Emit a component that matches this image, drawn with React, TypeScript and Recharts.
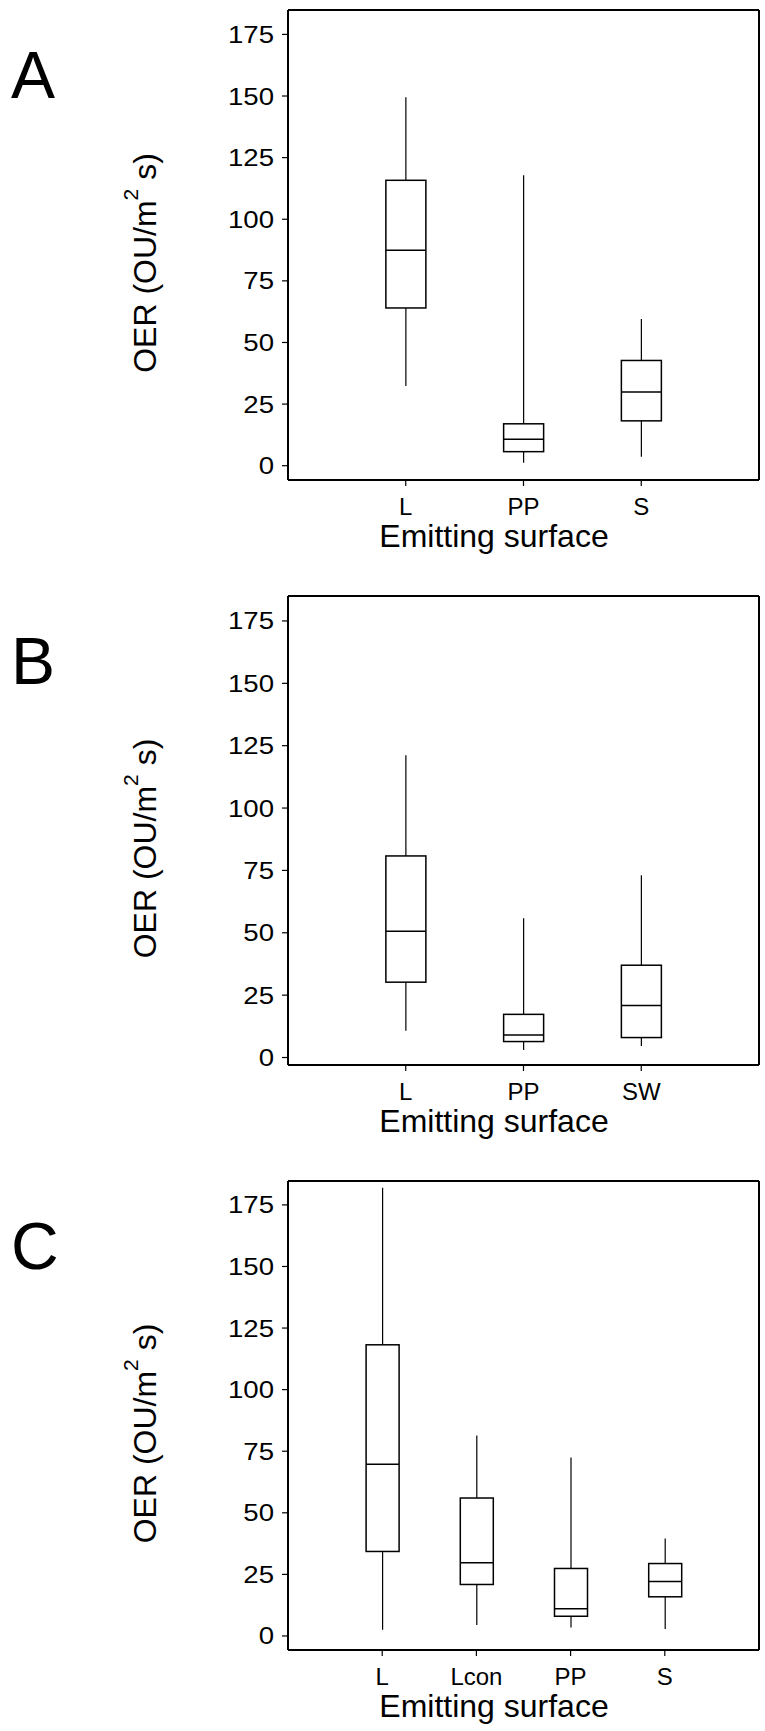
import { Bar, BarChart, ReferenceLine, XAxis, YAxis } from "recharts";

const font = "'Liberation Sans', Arial, sans-serif";
const yTicks = [0, 25, 50, 75, 100, 125, 150, 175];

// panel A
const catsA = ["L", "PP", "S"];
const minA = [32.3, 1.2, 3.6];
const q1A = [64, 5.7, 18.2];
const medA = [87.4, 10.7, 29.9];
const q3A = [115.8, 17, 42.7];
const maxA = [149.5, 117.8, 59.5];

// panel B
const catsB = ["L", "PP", "SW"];
const minB = [10.7, 3, 4.6];
const q1B = [30.2, 6.4, 8];
const medB = [50.6, 9, 20.9];
const q3B = [80.8, 17.3, 37];
const maxB = [121.2, 55.8, 73.1];

// panel C
const catsC = ["L", "Lcon", "PP", "S"];
const minC = [2.5, 4.4, 3.4, 2.8];
const q1C = [34.3, 20.9, 8, 15.9];
const medC = [69.7, 29.7, 11, 22.1];
const q3C = [118.2, 56, 27.4, 29.4];
const maxC = [182, 81.4, 72.4, 39.6];

function buildRows(cats, min, q1, med, q3, max) {
  return cats.map((name, i) => ({
    pos: i + 1,
    name,
    min: min[i],
    q1: q1[i],
    med: med[i],
    q3: q3[i],
    max: max[i],
    range: [min[i], max[i]],
  }));
}

function BoxShape(props: any) {
  const { x, y, width, height, payload } = props;
  const top = Math.min(y, y + height);
  const bottom = Math.max(y, y + height);
  const span = payload.max - payload.min;
  const py = (v: number) => bottom - ((v - payload.min) / span) * (bottom - top);
  const cx = x + width / 2;
  return (
    <g>
      <line x1={cx} x2={cx} y1={py(payload.max)} y2={py(payload.q3)} stroke="#000" strokeWidth={1.2} />
      <line x1={cx} x2={cx} y1={py(payload.q1)} y2={py(payload.min)} stroke="#000" strokeWidth={1.2} />
      <rect x={x} y={py(payload.q3)} width={width} height={py(payload.q1) - py(payload.q3)} fill="none" stroke="#000" strokeWidth={1.5} />
      <line x1={x} x2={x + width} y1={py(payload.med)} y2={py(payload.med)} stroke="#000" strokeWidth={1.5} />
    </g>
  );
}

function YTick(props: any) {
  const { x, y, payload } = props;
  return (
    <g transform={`translate(${x},${y})`}>
      <text transform="scale(1.15,1)" textAnchor="end" dy="0.355em" fontSize={24} fontFamily={font} fill="#000">
        {payload.value}
      </text>
    </g>
  );
}

function YTitle({ letter, plotH }: any) {
  const cy = 10 + plotH / 2 + 18;
  return (
    <g fontFamily={font} fill="#000">
      <text x={11} y={98} fontSize={66}>{letter}</text>
      <text x={156} y={cy} fontSize={32} textAnchor="middle" transform={`rotate(-90, 156, ${cy})`}>
        OER (OU/m<tspan dy={-18} fontSize={21}>2</tspan><tspan dy={18}> s)</tspan>
      </text>
    </g>
  );
}

function XTitle({ plotH }: any) {
  return (
    <text x={494} y={10 + plotH + 67} fontSize={32} fontFamily={font} fill="#000" textAnchor="middle">
      Emitting surface
    </text>
  );
}

function Panel({ letter, rows, cats, domain, plotH, barSize }: any) {
  const n = cats.length;
  const positions = cats.map((_, i) => i + 1);
  return (
    <BarChart width={765} height={10 + plotH + 80} data={rows} margin={{ top: 10, right: 6, bottom: 0, left: 188 }}>
      <XAxis
        dataKey="pos"
        type="number"
        domain={[0, n + 1]}
        ticks={positions}
        interval={0}
        allowDataOverflow
        tickFormatter={(v) => cats[v - 1]}
        height={80}
        tickSize={6}
        tickMargin={12}
        axisLine={{ stroke: "#000", strokeWidth: 2 }}
        tickLine={{ stroke: "#000", strokeWidth: 1.2 }}
        tick={{ fill: "#000", fontSize: 24, fontFamily: font }}
        label={<XTitle plotH={plotH} />}
      />
      <YAxis
        type="number"
        domain={domain}
        ticks={yTicks}
        interval={0}
        allowDataOverflow
        width={100}
        tickSize={6}
        tickMargin={8}
        axisLine={{ stroke: "#000", strokeWidth: 2 }}
        tickLine={{ stroke: "#000", strokeWidth: 1.2 }}
        tick={<YTick />}
        label={<YTitle letter={letter} plotH={plotH} />}
      />
      <ReferenceLine y={domain[1]} stroke="#000" strokeWidth={2} />
      <ReferenceLine x={n + 1} stroke="#000" strokeWidth={2} />
      <Bar dataKey="range" barSize={barSize} shape={<BoxShape />} isAnimationActive={false} />
    </BarChart>
  );
}

export default function App() {
  return (
    <div style={{ position: "absolute", left: 0, top: 0, width: 765, height: 1731, background: "#fff" }}>
      <div style={{ position: "absolute", left: 0, top: 0 }}>
        <Panel letter="A" cats={catsA} rows={buildRows(catsA, minA, q1A, medA, q3A, maxA)} domain={[-5.8, 184.9]} plotH={470} barSize={40} />
      </div>
      <div style={{ position: "absolute", left: 0, top: 586 }}>
        <Panel letter="B" cats={catsB} rows={buildRows(catsB, minB, q1B, medB, q3B, maxB)} domain={[-3, 185]} plotH={469} barSize={40} />
      </div>
      <div style={{ position: "absolute", left: 0, top: 1171 }}>
        <Panel letter="C" cats={catsC} rows={buildRows(catsC, minC, q1C, medC, q3C, maxC)} domain={[-5.7, 184.7]} plotH={469} barSize={33} />
      </div>
    </div>
  );
}
